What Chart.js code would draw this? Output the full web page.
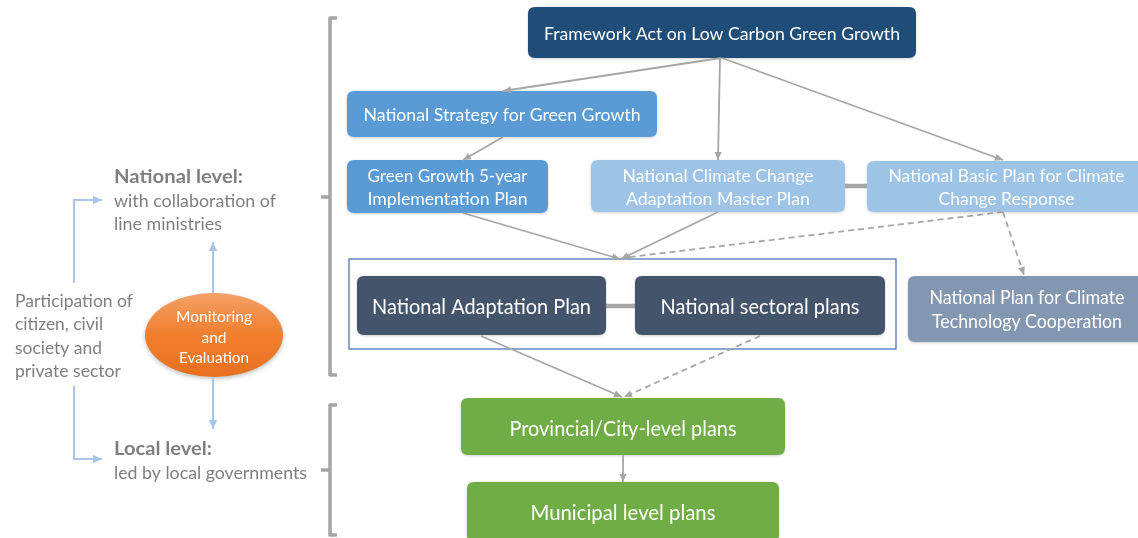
<!DOCTYPE html>
<html><head><meta charset="utf-8">
<script src="https://cdn.jsdelivr.net/npm/chart.js@4"></script>
<style>html,body{margin:0;padding:0;background:#fff;overflow:hidden}#wrap{width:1138px;height:538px}</style>
</head><body><div id="wrap"><canvas id="c" width="1138" height="538"></canvas></div>
<script>
// ---------- content ----------
const nodeLabels = [
  ["Framework Act on Low Carbon Green Growth"],
  ["National Strategy for Green Growth"],
  ["Green Growth 5-year", "Implementation Plan"],
  ["National Climate Change", "Adaptation Master Plan"],
  ["National Basic Plan for Climate", "Change Response"],
  ["National Adaptation Plan"],
  ["National sectoral plans"],
  ["National Plan for Climate", "Technology Cooperation"],
  ["Provincial/City-level plans"],
  ["Municipal level plans"]
];
const sideLabels = [
  "National level:", "with collaboration of", "line ministries",
  "Participation of", "citizen, civil", "society and", "private sector",
  "Local level:", "led by local governments"
];
const ovalLabels = ["Monitoring", "and", "Evaluation"];

// ---------- layout (diagram units) ----------
const nodeLeft   = [528, 347, 347, 591, 867, 357, 635, 908, 461, 467];
const nodeTop    = [7,   91,  160, 160, 161, 276, 276, 276, 398, 482];
const nodeRight  = [916, 657, 548, 845, 1146, 606, 885, 1146, 785, 779];
const nodeBottom = [58,  137, 213, 212, 212, 335, 335, 342, 455, 542];
const nodeFill   = ["#204d78", "#5b9bd5", "#5b9bd5", "#9dc3e6", "#9dc3e6",
                    "#44546a", "#44546a", "#8497b0", "#70ad47", "#70ad47"];
const nodeFont   = [18, 18, 18, 18, 18, 22, 22, 20, 21, 21];
const nodeTextW  = [[356], [277], [160, 160], [191, 184], [236, 136],
                    [219], [199], [195, 190], [227], [185]];
const nodeLineY  = [[34], [115], [176, 199], [176, 199], [176, 199],
                    [307], [307], [298, 322], [429], [513]];

const sideX     = [114, 114, 114, 15, 15, 15, 15, 114, 114];
const sideY     = [177, 201, 224, 301, 324, 348, 371, 449, 473];
const sideW     = [129, 162, 108, 118, 88, 87, 106, 98, 193];
const sideBold  = [true, false, false, false, false, false, false, true, false];

const ovalCx = 214, ovalCy = 335, ovalRx = 69, ovalRy = 42;
const ovalLineY = [317, 338, 358];
const ovalTextW = [76, 25, 70];

const frameBox = [349, 259, 896, 349];

// edges: [x,y] start and end points
const edgeFrom = [[721,58],[720,58],[722,58],[503,137],[463,213],[718,212],[1003,212],[1003,212],[481,336],[760,336],[623,455]];
const edgeTo   = [[503,91],[718,160],[1003,160],[463,160],[620,259],[621,259],[622,258],[1024,275],[622,397],[624,397],[623,482]];
const edgeDash = [false,false,false,false,false,false,true,true,false,true,false];

const connectors = [[[845,186],[867,186]], [[606,306],[635,306]]];
const brackets = [
  [[337,18],[330,18],[330,375],[337,375]],
  [[337,405],[330,405],[330,535],[337,535]]
];
const notches = [[[330,197],[321,197]], [[330,470],[321,470]]];
const blueArrows = [
  [[74,283],[74,200],[102,200]],
  [[74,386],[74,459],[102,459]],
  [[213,293],[213,242]],
  [[213,377],[213,429]]
];

// ---------- datasets ----------
const pts = a => a.map(p => ({x: p[0], y: p[1]}));
const datasets = [];
edgeFrom.forEach((f, i) => datasets.push({
  data: pts([f, edgeTo[i]]), showLine: true, pointRadius: 0, borderColor: '#a6a6a6',
  borderWidth: 1.8, borderDash: edgeDash[i] ? [6, 4] : [], arrow: true, fill: false
}));
connectors.forEach(c => datasets.push({data: pts(c), showLine: true, pointRadius: 0, borderColor: '#a6a6a6', borderWidth: 4.5}));
brackets.forEach(b => datasets.push({data: pts(b), showLine: true, pointRadius: 0, borderColor: '#a5a5a5', borderWidth: 3.5, borderJoinStyle: 'round'}));
notches.forEach(b => datasets.push({data: pts(b), showLine: true, pointRadius: 0, borderColor: '#a5a5a5', borderWidth: 3.5}));
blueArrows.forEach(b => datasets.push({data: pts(b), showLine: true, pointRadius: 0, borderColor: '#a9c5ea', borderWidth: 2, arrow: true, borderJoinStyle: 'miter'}));

const FONT = 'Lato, "Open Sans", sans-serif';
function fitText(ctx, t, cx, cy, w, size, bold, align) {
  ctx.font = (bold ? 'bold ' : '') + size + 'px ' + FONT;
  const m = ctx.measureText(t).width;
  ctx.save();
  ctx.translate(cx, cy);
  ctx.scale(w / m, 1);
  ctx.textAlign = align; ctx.textBaseline = 'middle';
  ctx.fillText(t, 0, 0);
  ctx.restore();
}
function rrect(ctx, x, y, w, h, r) {
  ctx.beginPath();
  ctx.moveTo(x + r, y); ctx.lineTo(x + w - r, y); ctx.quadraticCurveTo(x + w, y, x + w, y + r);
  ctx.lineTo(x + w, y + h - r); ctx.quadraticCurveTo(x + w, y + h, x + w - r, y + h);
  ctx.lineTo(x + r, y + h); ctx.quadraticCurveTo(x, y + h, x, y + h - r);
  ctx.lineTo(x, y + r); ctx.quadraticCurveTo(x, y, x + r, y); ctx.closePath();
}

const diagram = {
  id: 'diagram',
  beforeDatasetsDraw(chart) {
    const {ctx, scales: {x, y}} = chart;
    const X = v => x.getPixelForValue(v), Y = v => y.getPixelForValue(v);
    ctx.save();
    // frame
    ctx.strokeStyle = '#4f74b8'; ctx.lineWidth = 1.3;
    ctx.strokeRect(X(frameBox[0]), Y(frameBox[1]), X(frameBox[2]) - X(frameBox[0]), Y(frameBox[3]) - Y(frameBox[1]));
    // boxes
    nodeLabels.forEach((lab, i) => {
      const l = X(nodeLeft[i]), t = Y(nodeTop[i]), w = X(nodeRight[i]) - l, h = Y(nodeBottom[i]) - t;
      ctx.save();
      ctx.shadowColor = 'rgba(0,0,0,0.18)'; ctx.shadowBlur = 3; ctx.shadowOffsetY = 1;
      ctx.fillStyle = nodeFill[i];
      rrect(ctx, l, t, w, h, 7); ctx.fill();
      ctx.restore();
      ctx.fillStyle = '#ffffff';
      lab.forEach((s, k) => fitText(ctx, s, (l + X(nodeRight[i])) / 2, Y(nodeLineY[i][k]), nodeTextW[i][k], nodeFont[i], false, 'center'));
    });
    // oval
    const ocx = X(ovalCx), ocy = Y(ovalCy), rx = X(ovalCx + ovalRx) - ocx, ry = Y(ovalCy + ovalRy) - ocy;
    ctx.save();
    ctx.shadowColor = 'rgba(0,0,0,0.25)'; ctx.shadowBlur = 4; ctx.shadowOffsetY = 2;
    const g = ctx.createLinearGradient(0, ocy - ry, 0, ocy + ry);
    g.addColorStop(0, '#f4a066'); g.addColorStop(0.5, '#f07f2e'); g.addColorStop(1, '#e8701f');
    ctx.fillStyle = g;
    ctx.beginPath(); ctx.ellipse(ocx, ocy, rx, ry, 0, 0, Math.PI * 2); ctx.fill();
    ctx.restore();
    ctx.fillStyle = '#ffffff';
    ovalLabels.forEach((s, k) => fitText(ctx, s, ocx, Y(ovalLineY[k]), ovalTextW[k], 16, false, 'center'));
    // side labels
    ctx.fillStyle = '#7f7f7f';
    sideLabels.forEach((s, k) => fitText(ctx, s, X(sideX[k]), Y(sideY[k]), sideW[k], sideBold[k] ? 19 : 18, sideBold[k], 'left'));
    ctx.restore();
  },
  afterDatasetsDraw(chart) {
    const {ctx} = chart;
    chart.data.datasets.forEach((ds, i) => {
      if (!ds.arrow) return;
      const meta = chart.getDatasetMeta(i);
      const n = meta.data.length;
      const a = meta.data[n - 2], b = meta.data[n - 1];
      const ang = Math.atan2(b.y - a.y, b.x - a.x);
      const gray = ds.borderColor === '#a6a6a6';
      const L = gray ? 8 : 9, W = gray ? 3.6 : 4.2;
      ctx.save();
      ctx.fillStyle = ds.borderColor;
      ctx.translate(b.x, b.y); ctx.rotate(ang);
      ctx.beginPath(); ctx.moveTo(0, 0); ctx.lineTo(-L, -W); ctx.lineTo(-L, W); ctx.closePath(); ctx.fill();
      ctx.restore();
    });
  }
};

new Chart(document.getElementById('c'), {
  type: 'scatter',
  data: {datasets},
  options: {
    responsive: false, animation: false, events: [],
    layout: {padding: 0},
    scales: {
      x: {type: 'linear', min: 0, max: 1138, display: false},
      y: {type: 'linear', min: 0, max: 538, reverse: true, display: false}
    },
    plugins: {legend: {display: false}, tooltip: {enabled: false}},
    elements: {line: {tension: 0}}
  },
  plugins: [diagram]
});
</script></body></html>
